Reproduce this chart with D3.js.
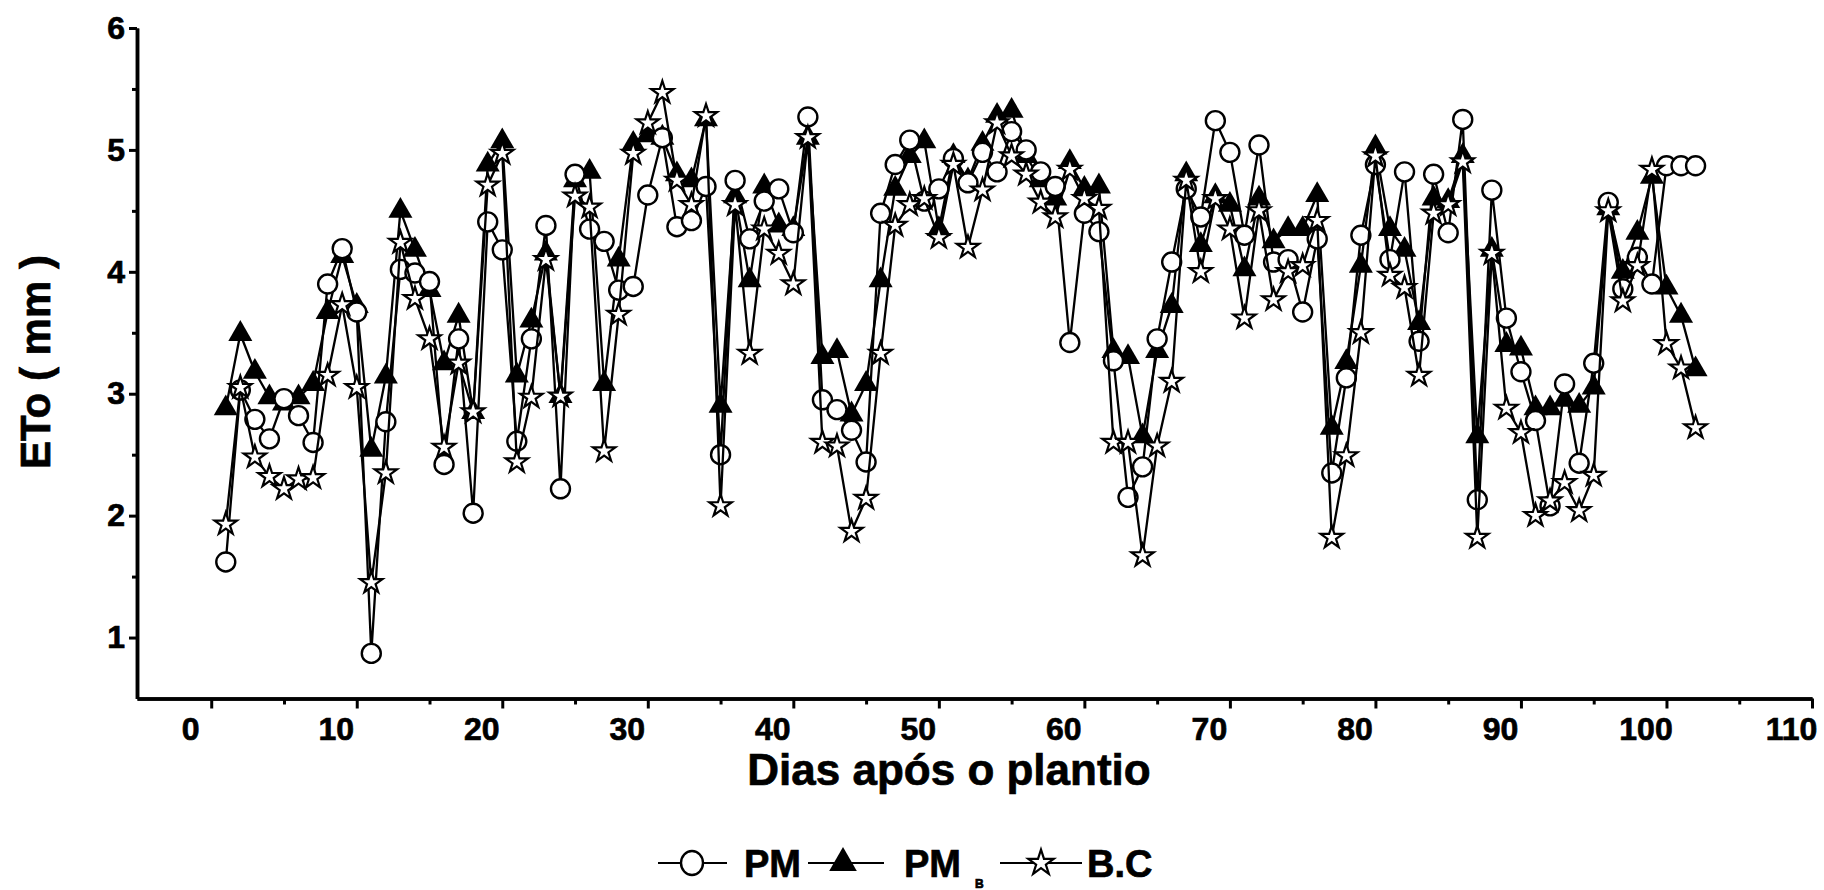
<!DOCTYPE html>
<html>
<head>
<meta charset="utf-8">
<script src="https://cdn.jsdelivr.net/npm/d3@7"></script>
<style>
  body { margin: 0; background: #fff; }
  svg text { font-family: "Liberation Sans", Arial, sans-serif; font-weight: bold; fill: #000; stroke: #000; stroke-width: 0.7px; }
</style>
</head>
<body>
<div id="chart"></div>
<script>
// days after planting
var days = [1,2,3,4,5,6,7,8,9,10,11,12,13,14,15,16,17,18,19,20,
  21,22,23,24,25,26,27,28,29,30,31,32,33,34,35,36,37,38,39,40,
  41,42,43,44,45,46,47,48,49,50,51,52,53,54,55,56,57,58,59,60,
  61,62,63,64,65,66,67,68,69,70,71,72,73,74,75,76,77,78,79,80,
  81,82,83,84,85,86,87,88,89,90,91,92,93,94,95,96,97,98,99,100,
  101,102];

// ETo (mm) - PM
var pm = [1.62,3.03,2.79,2.63,2.96,2.82,2.60,3.90,4.19,3.67,
  0.87,2.77,4.02,3.99,3.92,2.42,3.45,2.02,4.41,4.18,
  2.61,3.45,4.38,2.22,4.80,4.35,4.25,3.85,3.88,4.63,
  5.10,4.37,4.42,4.70,2.50,4.75,4.27,4.58,4.68,4.32,
  5.27,2.95,2.87,2.70,2.44,4.48,4.88,5.08,4.58,4.68,
  4.93,4.73,4.98,4.82,5.15,5.00,4.82,4.70,3.42,4.48,
  4.33,3.27,2.15,2.40,3.45,4.08,4.68,4.45,5.24,4.98,
  4.30,5.04,4.08,4.10,3.67,4.27,2.35,3.13,4.30,4.88,
  4.10,4.82,3.43,4.80,4.32,5.25,2.13,4.67,3.62,3.18,
  2.78,2.08,3.08,2.43,3.25,4.57,3.86,4.12,3.90,4.87,
  4.87,4.87];

// PM_B
var pmb = [2.88,3.49,3.18,2.97,2.92,2.97,3.08,3.67,4.13,3.72,
  2.54,3.14,4.50,4.18,3.85,3.25,3.64,2.85,4.88,5.07,
  3.15,3.60,4.15,2.98,4.75,4.82,3.08,4.10,5.05,5.12,
  5.10,4.80,4.75,5.25,2.90,4.62,3.93,4.70,4.38,4.35,
  5.10,3.30,3.35,2.83,3.08,3.93,4.68,4.95,5.07,4.35,
  4.95,4.75,5.05,5.28,5.32,4.95,4.75,4.60,4.90,4.68,
  4.70,3.35,3.30,2.65,3.35,3.72,4.80,4.22,4.62,4.55,
  4.02,4.60,4.25,4.35,4.35,4.63,2.72,3.26,4.05,5.02,
  4.35,4.18,3.58,4.60,4.58,4.95,2.65,4.18,3.40,3.37,
  2.88,2.88,2.95,2.90,3.05,4.52,4.00,4.32,4.78,3.87,
  3.64,3.20];

// B.C
var bc = [1.93,3.05,2.48,2.32,2.22,2.30,2.31,3.15,3.73,3.05,
  1.45,2.35,4.24,3.78,3.45,2.56,3.25,2.85,4.71,4.97,
  2.44,2.97,4.10,2.98,4.62,4.53,2.53,3.65,4.97,5.22,
  5.47,4.75,4.55,5.28,2.08,4.55,3.33,4.35,4.15,3.90,
  5.10,2.60,2.57,1.87,2.14,3.33,4.38,4.55,4.60,4.28,
  4.88,4.20,4.67,5.22,4.95,4.80,4.57,4.45,4.84,4.60,
  4.52,2.60,2.60,1.67,2.57,3.10,4.75,4.00,4.60,4.35,
  3.62,4.50,3.77,4.00,4.05,4.42,1.82,2.49,3.50,4.95,
  3.97,3.87,3.15,4.48,4.55,4.90,1.82,4.15,2.88,2.68,
  2.00,2.12,2.27,2.04,2.33,4.50,3.76,4.05,4.84,3.41,
  3.21,2.72];

var xTicks = [0,10,20,30,40,50,60,70,80,90,100,110];
var xMinor = [5,15,25,35,45,55,65,75,85,95,105];
var yTicks = [1,2,3,4,5,6];
var yMinor = [1.5,2.5,3.5,4.5,5.5];

var w = 1824, h = 890;

var x = d3.scaleLinear().domain([-5.1, 110]).range([137, 1812]);
var y = d3.scaleLinear().domain([0.5, 6]).range([698.5, 28]);

var svg = d3.select('#chart').append('svg')
  .attr('width', w)
  .attr('height', h);

// axes
var xAxis = d3.axisBottom(x).tickValues(xTicks).tickSize(10).tickSizeOuter(0).tickPadding(8);
var xAxisMinor = d3.axisBottom(x).tickValues(xMinor).tickSize(6).tickSizeOuter(0).tickFormat('');
var yAxis = d3.axisLeft(y).tickValues(yTicks).tickSize(8).tickSizeOuter(0).tickPadding(4)
  .tickFormat(d3.format('d'));
var yAxisMinor = d3.axisLeft(y).tickValues(yMinor).tickSize(5).tickSizeOuter(0).tickFormat('');

var gx = svg.append('g')
  .attr('transform', 'translate(0,' + y(0.5) + ')')
  .call(xAxis);
svg.append('g')
  .attr('transform', 'translate(0,' + y(0.5) + ')')
  .call(xAxisMinor);
var gy = svg.append('g')
  .attr('transform', 'translate(' + x(-5.1) + ',0)')
  .call(yAxis);
svg.append('g')
  .attr('transform', 'translate(' + x(-5.1) + ',0)')
  .call(yAxisMinor);

svg.selectAll('.domain').attr('stroke', '#000').attr('stroke-width', 3.5);
svg.selectAll('.tick line').attr('stroke', '#000').attr('stroke-width', 3);
gx.selectAll('text').attr('dx', -21).style('font-size', '32px').attr('dy', '0.72em');
gy.selectAll('text').style('font-size', '32px');

// axis titles
svg.append('text')
  .attr('x', 949)
  .attr('y', 785)
  .attr('text-anchor', 'middle')
  .style('font-size', '44px')
  .text('Dias após o plantio');

svg.append('text')
  .attr('transform', 'translate(50,362) rotate(-90)')
  .attr('text-anchor', 'middle')
  .style('font-size', '42px')
  .text('ETo ( mm )');

// marker shapes
var circleR = 9.5;
var triPath = d3.symbol(d3.symbolTriangle, 250)();
var starPath = d3.symbol(d3.symbolStar, 155)();

var line = d3.line()
  .x(function(d, i) { return x(days[i]); })
  .y(function(d) { return y(d); });

// PM_B series (triangles)
svg.append('path')
  .datum(pmb)
  .attr('fill', 'none')
  .attr('stroke', '#000')
  .attr('stroke-width', 2.3)
  .attr('d', line);

svg.selectAll('.tri')
  .data(pmb)
  .enter()
  .append('path')
    .attr('class', 'tri')
    .attr('d', triPath)
    .attr('transform', function(d, i) { return 'translate(' + x(days[i]) + ',' + y(d) + ')'; })
    .attr('fill', '#000');

// PM series (circles)
svg.append('path')
  .datum(pm)
  .attr('fill', 'none')
  .attr('stroke', '#000')
  .attr('stroke-width', 2.3)
  .attr('d', line);

svg.selectAll('.circ')
  .data(pm)
  .enter()
  .append('circle')
    .attr('class', 'circ')
    .attr('cx', function(d, i) { return x(days[i]); })
    .attr('cy', function(d) { return y(d); })
    .attr('r', circleR)
    .attr('fill', '#fff')
    .attr('stroke', '#000')
    .attr('stroke-width', 2.4);

// B.C series (stars)
svg.append('path')
  .datum(bc)
  .attr('fill', 'none')
  .attr('stroke', '#000')
  .attr('stroke-width', 2.3)
  .attr('d', line);

svg.selectAll('.star')
  .data(bc)
  .enter()
  .append('path')
    .attr('class', 'star')
    .attr('d', starPath)
    .attr('transform', function(d, i) { return 'translate(' + x(days[i]) + ',' + y(d) + ')'; })
    .attr('fill', '#fff')
    .attr('stroke', '#000')
    .attr('stroke-width', 2.2);

// legend
var ly = 863;
var legend = svg.append('g');

function legendLine(x1, x2) {
  legend.append('line')
    .attr('x1', x1).attr('x2', x2)
    .attr('y1', ly).attr('y2', ly)
    .attr('stroke', '#000').attr('stroke-width', 2.2);
}

legendLine(658, 727);
legend.append('ellipse')
  .attr('cx', 692).attr('cy', ly).attr('rx', 11).attr('ry', 12)
  .attr('fill', '#fff').attr('stroke', '#000').attr('stroke-width', 2.4);
legend.append('text').attr('x', 744).attr('y', ly + 14).style('font-size', '38px').text('PM');

legendLine(808, 884);
legend.append('path')
  .attr('d', d3.symbol(d3.symbolTriangle, 330)())
  .attr('transform', 'translate(843,' + ly + ')')
  .attr('fill', '#000');
legend.append('text').attr('x', 904).attr('y', ly + 14).style('font-size', '38px').text('PM');
legend.append('text').attr('x', 975).attr('y', ly + 25).style('font-size', '12px').text('B');

legendLine(1000, 1082);
legend.append('path')
  .attr('d', d3.symbol(d3.symbolStar, 200)())
  .attr('transform', 'translate(1041,' + ly + ')')
  .attr('fill', '#fff').attr('stroke', '#000').attr('stroke-width', 2.2);
legend.append('text').attr('x', 1087).attr('y', ly + 14).style('font-size', '38px').text('B.C');
</script>
</body>
</html>
